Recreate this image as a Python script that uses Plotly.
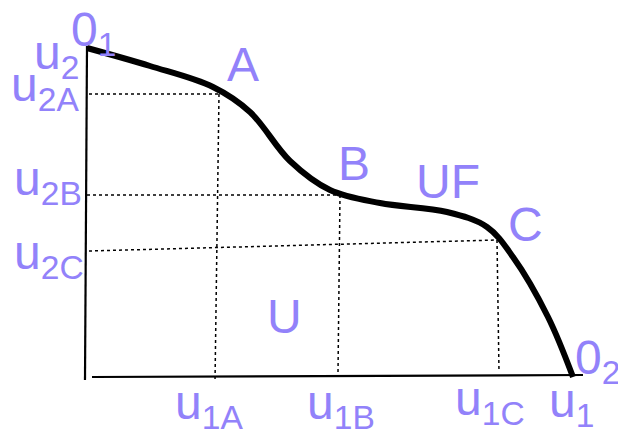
import plotly.graph_objects as go

# Utility frontier UF (diagram coordinates, y measured downward)
frontier_x = [87, 150, 213, 250, 290, 330, 380, 447, 487, 513, 548, 573]
frontier_y = [48, 66, 87, 112, 161, 190, 203, 212, 227, 257, 317, 377]

# Axes of the diagram
vaxis_x = [87, 85]
vaxis_y = [46, 380]
haxis_x = [92, 583]
haxis_y = [377, 375]

# Projection points A, B, C
point_names = ["A", "B", "C"]
point_x = [219, 340, 497]
point_y = [94, 195, 240]
guide_left_x = [89, 87, 89]
guide_left_y = [94, 195, 251]
guide_bottom_x = [215, 338, 499]
guide_bottom_y = [382, 373, 372]

# Labels: text, x, y
label_text = ["u<sub>2</sub>", "0<sub>1</sub>", "A", "u<sub>2A</sub>", "u<sub>2B</sub>", "B", "UF", "C",
              "u<sub>2C</sub>", "U", "0<sub>2</sub>", "u<sub>1</sub>", "u<sub>1A</sub>", "u<sub>1B</sub>", "u<sub>1C</sub>"]
label_x = [56, 93, 243, 45, 48, 354, 448, 525, 49, 284, 597, 571, 209, 341, 490]
label_y = [56, 33, 64, 88, 182, 163, 181, 224, 256, 316, 361, 404, 406, 406, 402]

LABEL_COLOR = "#9282FA"

fig = go.Figure()

for i in range(len(point_names)):
    fig.add_trace(go.Scatter(x=[guide_left_x[i], point_x[i]], y=[guide_left_y[i], point_y[i]],
                             mode="lines", line=dict(color="black", width=1.5, dash="dot"),
                             hoverinfo="skip", showlegend=False))
    fig.add_trace(go.Scatter(x=[point_x[i], guide_bottom_x[i]], y=[point_y[i], guide_bottom_y[i]],
                             mode="lines", line=dict(color="black", width=1.5, dash="dot"),
                             hoverinfo="skip", showlegend=False))

fig.add_trace(go.Scatter(x=vaxis_x, y=vaxis_y, mode="lines", line=dict(color="black", width=2.2),
                         hoverinfo="skip", showlegend=False))
fig.add_trace(go.Scatter(x=haxis_x, y=haxis_y, mode="lines", line=dict(color="black", width=2.2),
                         hoverinfo="skip", showlegend=False))
fig.add_trace(go.Scatter(x=frontier_x, y=frontier_y, mode="lines",
                         line=dict(color="black", width=6, shape="spline", smoothing=1.0),
                         hoverinfo="skip", showlegend=False))

for t, x, y in zip(label_text, label_x, label_y):
    fig.add_annotation(x=x, y=y, text=t, showarrow=False, xanchor="center", yanchor="middle",
                       font=dict(family="Liberation Sans, Arial, sans-serif", size=48, color=LABEL_COLOR))

fig.update_layout(
    width=618, height=432,
    margin=dict(l=0, r=0, t=0, b=0),
    paper_bgcolor="white", plot_bgcolor="white",
    xaxis=dict(range=[0, 618], visible=False, fixedrange=True),
    yaxis=dict(range=[432, 0], visible=False, fixedrange=True),
)

fig.write_html("out.html", config={"displayModeBar": False, "staticPlot": True},
               post_script="document.body.style.margin='0';document.body.style.overflow='hidden';")
